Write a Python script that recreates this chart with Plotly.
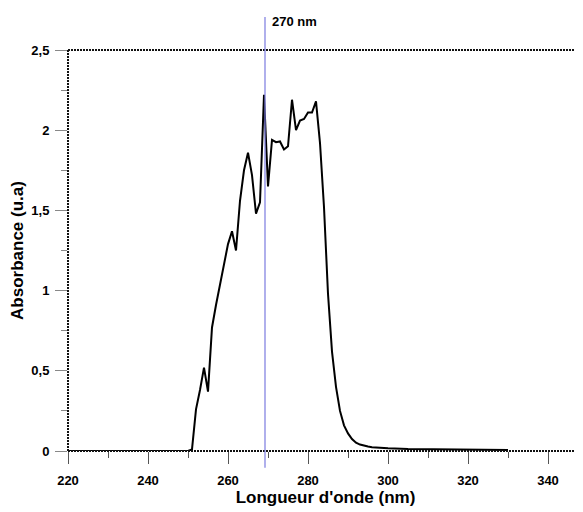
import plotly.graph_objects as go

# Wavelength (nm) and absorbance (u.a.)
wavelength = [220, 230, 240, 250, 251, 252, 253, 254, 255, 256, 257, 258, 259, 260,
              261, 262, 263, 264, 265, 266, 267, 268, 269, 270, 271, 272, 273, 274,
              275, 276, 277, 278, 279, 280, 281, 282, 283, 284, 285, 286, 287, 288,
              289, 290, 291, 292, 293, 294, 295, 296, 298, 300, 305, 310, 315, 320,
              325, 330]
absorbance = [0.0, 0.0, 0.0, 0.0, 0.01, 0.26, 0.38, 0.52, 0.37, 0.77, 0.91, 1.03, 1.16, 1.29,
              1.37, 1.25, 1.56, 1.75, 1.86, 1.72, 1.48, 1.55, 2.22, 1.65, 1.94, 1.925, 1.93, 1.88,
              1.90, 2.19, 2.00, 2.06, 2.07, 2.11, 2.11, 2.18, 1.92, 1.52, 0.98, 0.62, 0.40, 0.25,
              0.16, 0.11, 0.075, 0.052, 0.040, 0.033, 0.028, 0.024, 0.020, 0.017, 0.013, 0.011, 0.010, 0.009,
              0.008, 0.007]

marker_nm = 269.25
marker_label = "270 nm"

x_ticks = [220, 240, 260, 280, 300, 320, 340]
y_ticks = [0, 0.5, 1, 1.5, 2, 2.5]

FONT = "Liberation Sans, Arial, sans-serif"

fig = go.Figure()
fig.add_trace(go.Scatter(x=wavelength, y=absorbance, mode="lines",
                         line=dict(color="black", width=2), showlegend=False,
                         cliponaxis=False))

dotted = dict(color="#111111", width=2, dash="2px,1px")
fig.add_shape(type="line", xref="paper", yref="paper", x0=0, x1=0, y0=0, y1=1, line=dotted)
fig.add_shape(type="line", xref="paper", yref="paper", x0=0, x1=1, y0=1, y1=1, line=dotted)
fig.add_shape(type="line", xref="paper", yref="paper", x0=0, x1=1, y0=0, y1=0, line=dotted)

fig.add_shape(type="line", xref="x", yref="paper", x0=marker_nm, x1=marker_nm,
              y0=-0.042, y1=1.082, line=dict(color="#7b7be0", width=1.2))
fig.add_annotation(x=marker_nm, xref="x", y=1.07, yref="paper", text="<b>" + marker_label + "</b>",
                   showarrow=False, xanchor="left", yanchor="middle", xshift=5,
                   font=dict(family=FONT, size=13, color="black"))

fig.update_layout(
    width=575, height=504,
    margin=dict(l=60, r=0, t=42, b=61),
    paper_bgcolor="white", plot_bgcolor="white",
    separators=",.",
    font=dict(family=FONT, size=13, color="black"),
    xaxis=dict(range=[220, 348.75], tickvals=x_ticks, ticks="outside", ticklen=12,
               tickwidth=1, tickcolor="#555555", showgrid=False, zeroline=False, showline=False,
               ticklabelstandoff=5,
               tickfont=dict(family=FONT, size=13, color="black", weight="bold"),
               minor=dict(dtick=10, tick0=220, ticks="outside", ticklen=6, tickcolor="#555555", showgrid=False),
               title=dict(text="<b>Longueur d'onde (nm)</b>", font=dict(family=FONT, size=17), standoff=2)),
    yaxis=dict(range=[0, 2.5], tickvals=y_ticks, ticks="outside", ticklen=12,
               tickwidth=1, tickcolor="#888888", showgrid=False, zeroline=False, showline=False,
               ticklabelstandoff=3,
               tickfont=dict(family=FONT, size=13, color="black", weight="bold"),
               minor=dict(dtick=0.25, tick0=0, ticks="outside", ticklen=6, tickcolor="#888888", showgrid=False),
               title=dict(text="<b>Absorbance (u.a)</b>", font=dict(family=FONT, size=17), standoff=4)),
)

fig.write_html("out.html")
